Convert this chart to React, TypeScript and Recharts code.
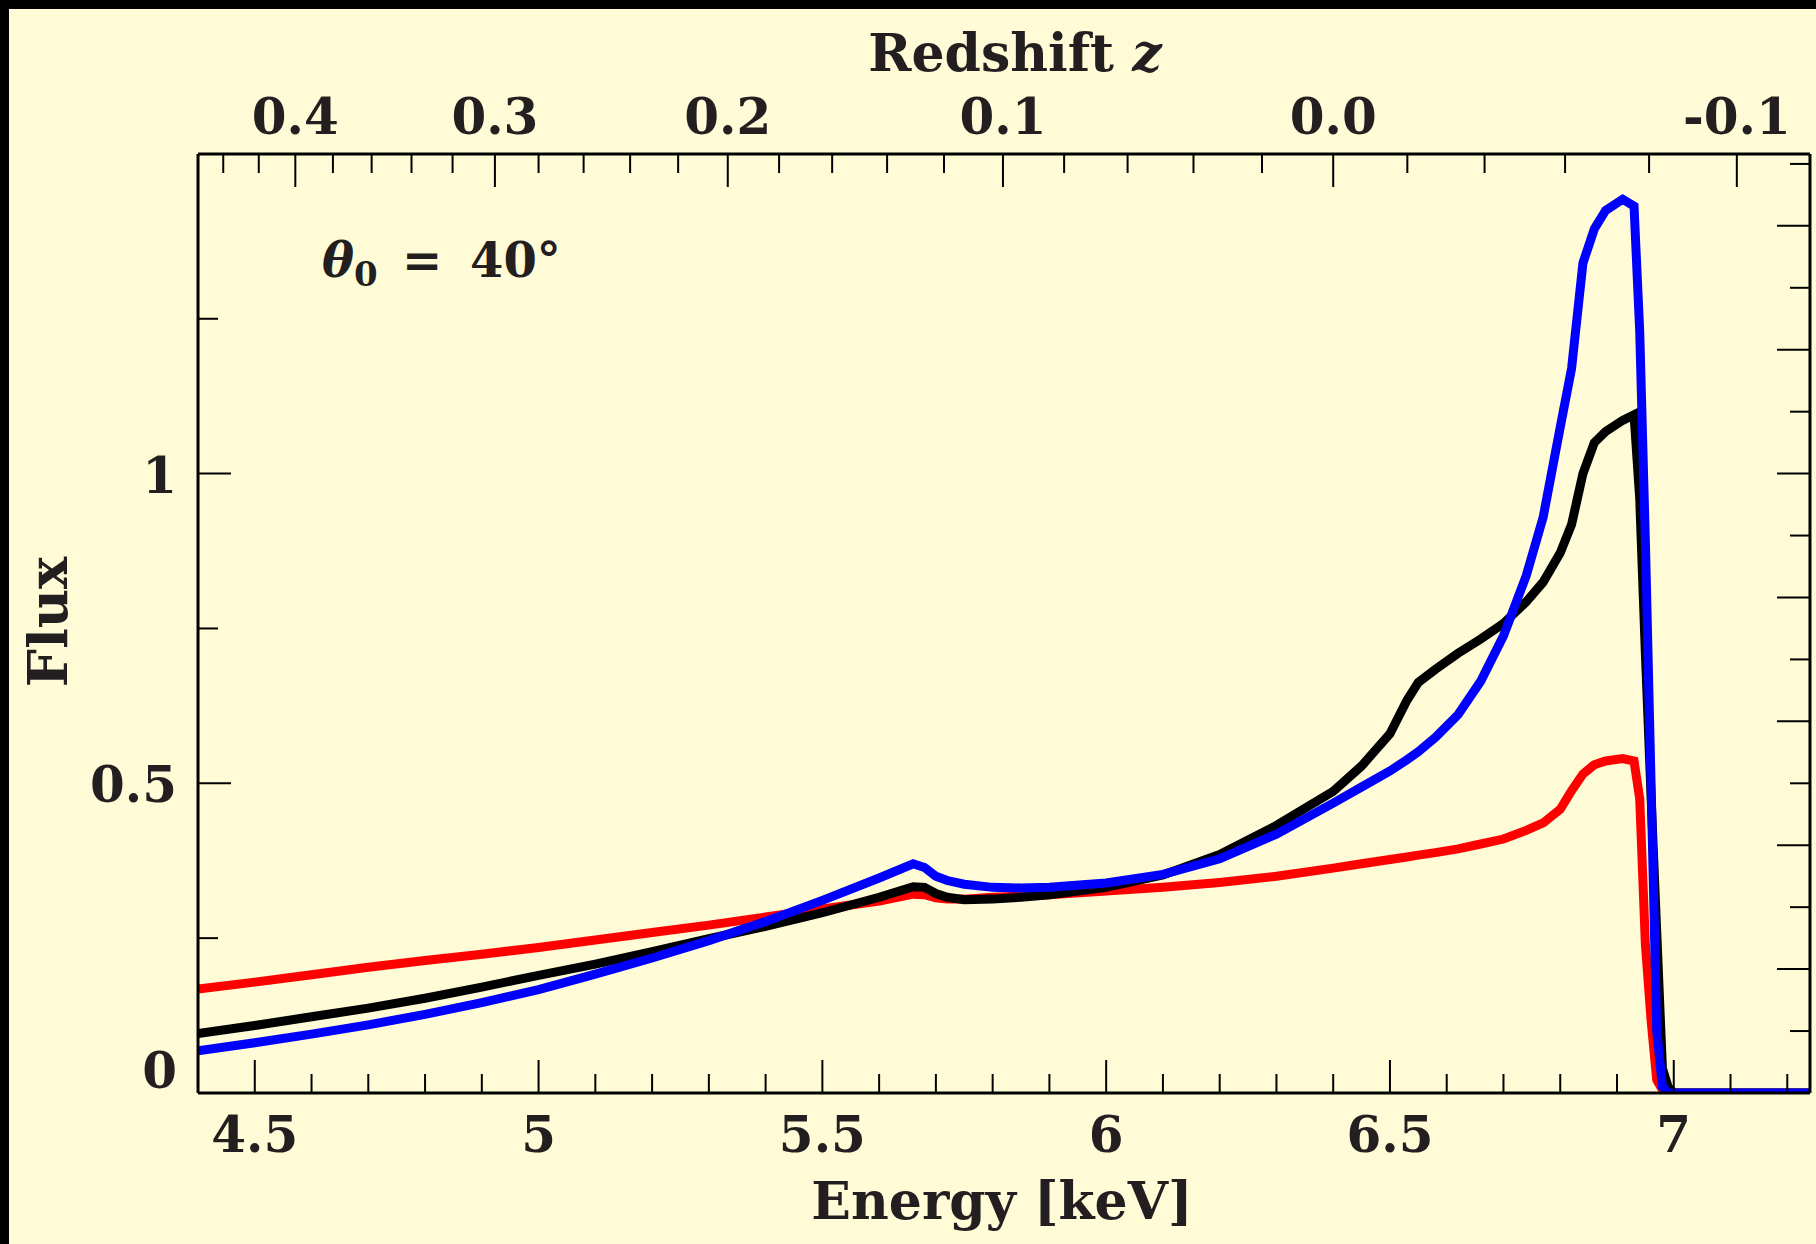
import React from 'react';
import { LineChart, Line, XAxis, YAxis } from 'recharts';

// photon energy grid [keV]
const energy = [
  4.40, 4.50, 4.60, 4.70, 4.80, 4.90, 5.00, 5.10, 5.20, 5.30, 5.40, 5.50, 5.60,
  5.66, 5.68, 5.70, 5.72, 5.75, 5.80, 5.85, 5.90, 6.00, 6.10, 6.20, 6.30, 6.40,
  6.45, 6.50, 6.53, 6.55, 6.58, 6.62, 6.66, 6.70, 6.74, 6.77, 6.80, 6.82, 6.84,
  6.86, 6.88, 6.91, 6.93, 6.94, 6.95, 6.96, 6.97, 6.98, 6.99, 7.00, 7.10, 7.24,
];

// line profiles (flux)
const redFlux = [
  0.168, 0.179, 0.191, 0.203, 0.214, 0.224, 0.235, 0.247, 0.259, 0.271, 0.284, 0.297, 0.310,
  0.321, 0.320, 0.315, 0.313, 0.313, 0.316, 0.318, 0.320, 0.326, 0.332, 0.340, 0.350, 0.363,
  0.370, 0.377, 0.381, 0.384, 0.388, 0.394, 0.402, 0.410, 0.424, 0.436, 0.458, 0.488, 0.515,
  0.530, 0.536, 0.540, 0.536, 0.475, 0.240, 0.118, 0.021, 0.005, 0, 0, 0, 0,
];
const blackFlux = [
  0.096, 0.109, 0.123, 0.137, 0.153, 0.171, 0.190, 0.208, 0.228, 0.249, 0.269, 0.291, 0.316,
  0.333, 0.332, 0.322, 0.316, 0.312, 0.313, 0.316, 0.320, 0.332, 0.352, 0.385, 0.432, 0.487,
  0.528, 0.580, 0.634, 0.663, 0.684, 0.710, 0.733, 0.758, 0.793, 0.825, 0.872, 0.918, 1.000,
  1.050, 1.068, 1.086, 1.095, 0.96, 0.71, 0.48, 0.26, 0.04, 0.01, 0, 0, 0,
];
const blueFlux = [
  0.068, 0.081, 0.095, 0.110, 0.127, 0.146, 0.167, 0.192, 0.218, 0.246, 0.277, 0.311, 0.347,
  0.370, 0.364, 0.350, 0.343, 0.337, 0.332, 0.331, 0.332, 0.339, 0.353, 0.378, 0.418, 0.468,
  0.494, 0.520, 0.538, 0.551, 0.574, 0.611, 0.665, 0.738, 0.835, 0.930, 1.075, 1.170, 1.340,
  1.395, 1.425, 1.443, 1.432, 1.23, 0.89, 0.50, 0.10, 0.01, 0, 0, 0, 0,
];

// axes
const energyMajor = [4.5, 5, 5.5, 6, 6.5, 7];
const energyMinor = [4.6, 4.7, 4.8, 4.9, 5.1, 5.2, 5.3, 5.4, 5.6, 5.7, 5.8, 5.9, 6.1, 6.2, 6.3, 6.4, 6.6, 6.7, 6.8, 6.9, 7.1, 7.2];
const zMajor = [0.4, 0.3, 0.2, 0.1, 0.0, -0.1];
const zLabels = ['0.4', '0.3', '0.2', '0.1', '0.0', '-0.1'];
const zMinor = [0.44, 0.42, 0.38, 0.36, 0.34, 0.32, 0.28, 0.26, 0.24, 0.22, 0.18, 0.16, 0.14, 0.12, 0.08, 0.06, 0.04, 0.02, -0.02, -0.04, -0.06, -0.08];
const fluxMajor = [0, 0.5, 1];
const fluxMinor = [0.25, 0.75, 1.25];
const rightLong = [0.2, 0.4, 0.6, 0.8, 1.0, 1.2, 1.4];
const rightShort = [0.1, 0.3, 0.5, 0.7, 0.9, 1.1, 1.3, 1.5];

const E_LINE = 6.4; // rest energy of the Fe line, z = E_LINE / E - 1
const zToE = (z: number) => E_LINE / (1 + z);

const xDomain: [number, number] = [4.4, 7.24];
const yDomain: [number, number] = [0, 1.516];

const data = energy.map((e, i) => ({ e, red: redFlux[i], black: blackFlux[i], blue: blueFlux[i] }));

const FONT = '"DejaVu Serif", "Liberation Serif", serif';
const INK = '#231f20';
const BG = '#fffbd7';
const THIN = 0.01; // axes need a non-zero size to be drawn

const tickLine = { stroke: '#000', strokeWidth: 2 };
const axisLine = { stroke: '#000', strokeWidth: 3 };

// tick={false} drops the tick marks too, so unlabeled axes get an empty label
const NoLabel = () => <g />;

const BottomTick = (p: any) => (
  <text x={p.x} y={p.y} textAnchor="middle" fontFamily={FONT} fontWeight="bold" fontSize={50} fill={INK}>
    {String(p.payload.value)}
  </text>
);

const zEnergies = zMajor.map(zToE);
const TopTick = (p: any) => {
  let idx = zEnergies.findIndex((v) => Math.abs(v - p.payload.value) < 1e-6);
  if (idx < 0) idx = p.index ?? 0;
  return (
    <text x={p.x} y={p.y} textAnchor="middle" fontFamily={FONT} fontWeight="bold" fontSize={50} fill={INK}>
      {zLabels[idx]}
    </text>
  );
};

const LeftTick = (p: any) => {
  const v = p.payload.value;
  return (
    <text x={p.x} y={p.y + (v === 0 ? -5 : 19)} textAnchor="end" fontFamily={FONT} fontWeight="bold" fontSize={50} fill={INK}>
      {String(v)}
    </text>
  );
};

export default function App() {
  return (
    <div style={{ position: 'absolute', left: 0, top: 0, width: 1816, height: 1244, background: BG }}>
      <LineChart width={1816} height={1244} data={data} margin={{ top: 154, right: 6, bottom: 151, left: 198 }}>
        <XAxis xAxisId="bottom" dataKey="e" type="number" domain={xDomain} allowDataOverflow
          ticks={energyMajor} interval={0} height={THIN} tickSize={-33} tickMargin={92}
          tick={BottomTick} stroke="#000" axisLine={axisLine} tickLine={tickLine} />
        <XAxis xAxisId="bottomMinor" dataKey="e" type="number" domain={xDomain} allowDataOverflow
          ticks={energyMinor} interval={0} height={THIN} tickSize={-19} tick={NoLabel} axisLine={false} tickLine={tickLine} />
        <XAxis xAxisId="top" orientation="top" dataKey="e" type="number" domain={xDomain} allowDataOverflow
          ticks={zEnergies} interval={0} height={THIN} tickSize={-33} tickMargin={53}
          tick={TopTick} stroke="#000" axisLine={axisLine} tickLine={tickLine} />
        <XAxis xAxisId="topMinor" orientation="top" dataKey="e" type="number" domain={xDomain} allowDataOverflow
          ticks={zMinor.map(zToE)} interval={0} height={THIN} tickSize={-19} tick={NoLabel} axisLine={false} tickLine={tickLine} />

        <YAxis yAxisId="left" type="number" domain={yDomain} allowDataOverflow
          ticks={fluxMajor} interval={0} width={THIN} tickSize={-33} tickMargin={54}
          tick={LeftTick} stroke="#000" axisLine={axisLine} tickLine={tickLine} />
        <YAxis yAxisId="leftMinor" type="number" domain={yDomain} allowDataOverflow
          ticks={fluxMinor} interval={0} width={THIN} tickSize={-20} tick={NoLabel} axisLine={false} tickLine={tickLine} />
        <YAxis yAxisId="rightLong" orientation="right" type="number" domain={yDomain} allowDataOverflow
          ticks={rightLong} interval={0} width={THIN} tickSize={-33} tick={NoLabel} stroke="#000" axisLine={axisLine} tickLine={tickLine} />
        <YAxis yAxisId="rightShort" orientation="right" type="number" domain={yDomain} allowDataOverflow
          ticks={rightShort} interval={0} width={THIN} tickSize={-20} tick={NoLabel} axisLine={false} tickLine={tickLine} />

        <Line xAxisId="bottom" yAxisId="left" type="linear" dataKey="red" stroke="#ff0000" strokeWidth={9} dot={false} activeDot={false} isAnimationActive={false} />
        <Line xAxisId="bottom" yAxisId="left" type="linear" dataKey="black" stroke="#000000" strokeWidth={9} dot={false} activeDot={false} isAnimationActive={false} />
        <Line xAxisId="bottom" yAxisId="left" type="linear" dataKey="blue" stroke="#0000ff" strokeWidth={9} dot={false} activeDot={false} isAnimationActive={false} />

        <text x={1015} y={71} textAnchor="middle" fontFamily={FONT} fontWeight="bold" fontSize={52} fill={INK}>
          Redshift <tspan fontStyle="italic">z</tspan>
        </text>
        <text x={1002} y={1219} textAnchor="middle" fontFamily={FONT} fontWeight="bold" fontSize={52} fill={INK}>
          Energy [keV]
        </text>
        <text x={67} y={622} textAnchor="middle" transform="rotate(-90 67 622)" fontFamily={FONT} fontWeight="bold" fontSize={54} fill={INK}>
          Flux
        </text>
        <text x={322} y={277} fontFamily={FONT} fontWeight="bold" fontSize={48} fill={INK}>
          <tspan fontStyle="italic">θ</tspan>
          <tspan fontSize={34} dy={9}>0</tspan>
          <tspan x={402} dy={-9}>=</tspan>
          <tspan x={470}>40°</tspan>
        </text>
      </LineChart>
      <div style={{ position: 'absolute', left: 0, top: 0, width: 1816, height: 9, background: '#000' }} />
      <div style={{ position: 'absolute', left: 0, top: 0, width: 9, height: 1244, background: '#000' }} />
    </div>
  );
}
